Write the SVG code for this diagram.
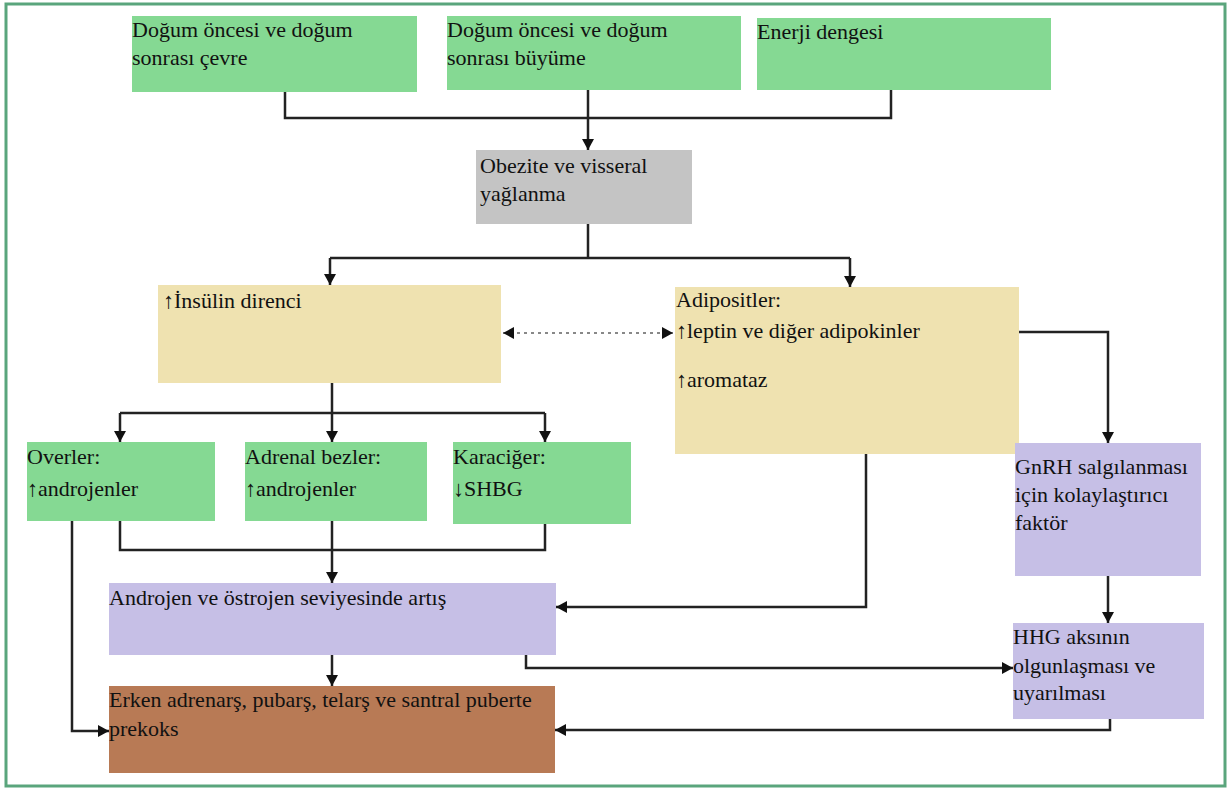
<svg xmlns="http://www.w3.org/2000/svg" width="1232" height="789" viewBox="0 0 1232 789">
<defs>
<marker id="arr" markerUnits="userSpaceOnUse" markerWidth="14" markerHeight="14" refX="11" refY="6" orient="auto"><path d="M0,0 L11,6 L0,12 z" fill="#111"/></marker>
<marker id="arrS" markerUnits="userSpaceOnUse" markerWidth="14" markerHeight="14" refX="0" refY="6" orient="auto"><path d="M11,0 L0,6 L11,12 z" fill="#111"/></marker>
</defs>
<style>
text{font-family:"Liberation Serif","Times New Roman",serif;font-size:22px;fill:#111}
.g{fill:#85d993}.gr{fill:#c4c4c4}.y{fill:#efe2b0}.p{fill:#c6bfe6}.b{fill:#b87a55}
.c{fill:none;stroke:#222;stroke-width:2.5}
.a{marker-end:url(#arr)}
</style>
<rect x="6" y="4" width="1219" height="782" fill="#fff" stroke="#5aa57c" stroke-width="3"/>
<g id="connectors">
<path class="c" d="M285,92 V118 H891 V90"/>
<path class="c a" d="M588,90 V150"/>
<path class="c" d="M588,224 V258 M330,258 H850"/>
<path class="c a" d="M330,258 V285"/>
<path class="c a" d="M850,258 V287"/>
<path d="M503,333 H673" fill="none" stroke="#888" stroke-width="2" stroke-dasharray="3 4" marker-start="url(#arrS)" marker-end="url(#arr)"/>
<path class="c a" d="M1019,332 H1108 V443"/>
<path class="c a" d="M1108,576 V623"/>
<path class="c a" d="M332,383 V442"/>
<path class="c" d="M120,413 H545"/>
<path class="c a" d="M120,413 V442"/>
<path class="c a" d="M545,413 V442"/>
<path class="c" d="M120,521 V550 H545 V524"/>
<path class="c a" d="M332,521 V583"/>
<path class="c a" d="M72,521 V731 H109"/>
<path class="c a" d="M866,454 V607 H556"/>
<path class="c a" d="M332,655 V686"/>
<path class="c a" d="M526,655 V668 H1013"/>
<path class="c a" d="M1110,719 V730 H555"/>
</g>
<g id="n-cevre"><rect class="g" x="132" y="16" width="285" height="76"/><text x="132" y="37">Doğum öncesi ve doğum</text><text x="132" y="65">sonrası çevre</text></g>
<g id="n-buyume"><rect class="g" x="447" y="16" width="294" height="74"/><text x="447" y="37">Doğum öncesi ve doğum</text><text x="447" y="65">sonrası büyüme</text></g>
<g id="n-enerji"><rect class="g" x="757" y="18" width="294" height="72"/><text x="757" y="39">Enerji dengesi</text></g>
<g id="n-obezite"><rect class="gr" x="476" y="150" width="216" height="74"/><text x="480" y="173">Obezite ve visseral</text><text x="480" y="201">yağlanma</text></g>
<g id="n-insulin"><rect class="y" x="158" y="285" width="343" height="98"/><text x="163" y="308">↑İnsülin direnci</text></g>
<g id="n-adipositler"><rect class="y" x="675" y="287" width="344" height="167"/><text x="676" y="307">Adipositler:</text><text x="676" y="338">↑leptin ve diğer adipokinler</text><text x="676" y="387">↑aromataz</text></g>
<g id="n-overler"><rect class="g" x="27" y="442" width="188" height="79"/><text x="27" y="464">Overler:</text><text x="27" y="496">↑androjenler</text></g>
<g id="n-adrenal"><rect class="g" x="245" y="442" width="182" height="79"/><text x="245" y="464">Adrenal bezler:</text><text x="245" y="496">↑androjenler</text></g>
<g id="n-karaciger"><rect class="g" x="453" y="442" width="178" height="82"/><text x="453" y="464">Karaciğer:</text><text x="453" y="496">↓SHBG</text></g>
<g id="n-gnrh"><rect class="p" x="1015" y="443" width="186" height="133"/><text x="1015" y="474">GnRH salgılanması</text><text x="1015" y="502">için kolaylaştırıcı</text><text x="1015" y="530">faktör</text></g>
<g id="n-androjen"><rect class="p" x="109" y="583" width="447" height="72"/><text x="109" y="605">Androjen ve östrojen seviyesinde artış</text></g>
<g id="n-hhg"><rect class="p" x="1013" y="623" width="191" height="96"/><text x="1013" y="644">HHG aksının</text><text x="1013" y="673">olgunlaşması ve</text><text x="1013" y="700">uyarılması</text></g>
<g id="n-erken"><rect class="b" x="109" y="686" width="446" height="87"/><text x="109" y="707">Erken adrenarş, pubarş, telarş ve santral puberte</text><text x="109" y="736">prekoks</text></g>
</svg>
